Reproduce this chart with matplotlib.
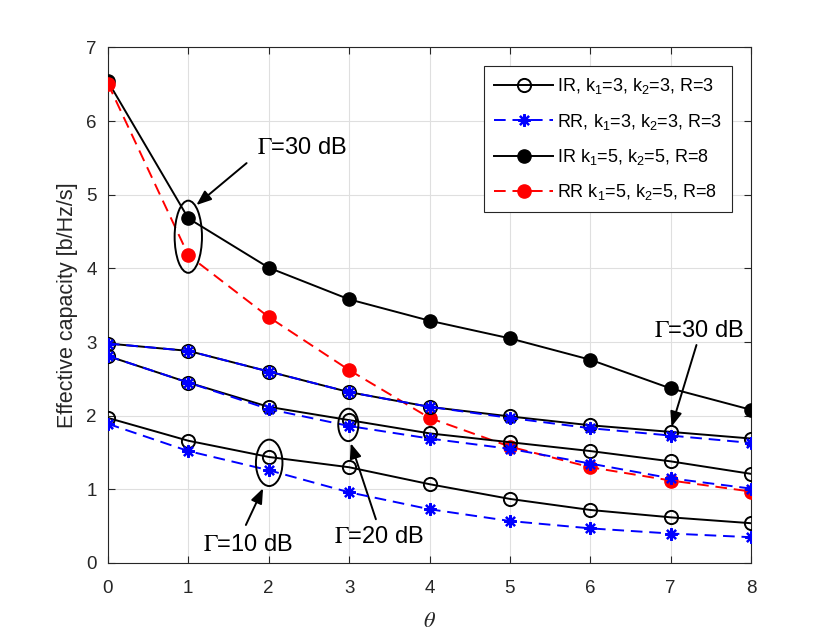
import matplotlib
matplotlib.use("Agg")
import matplotlib.pyplot as plt
from matplotlib.patches import Ellipse

plt.rcParams['font.family'] = ['Liberation Sans', 'DejaVu Sans']
plt.rcParams['mathtext.fontset'] = 'custom'
plt.rcParams['mathtext.rm'] = 'Liberation Sans'
plt.rcParams['mathtext.it'] = 'Liberation Sans:italic'

theta = [0, 1, 2, 3, 4, 5, 6, 7, 8]

# k1=3, k2=3, R=3
ir3_10 = [1.97, 1.66, 1.44, 1.30, 1.07, 0.87, 0.72, 0.62, 0.54]
rr3_10 = [1.89, 1.52, 1.26, 0.96, 0.73, 0.57, 0.47, 0.40, 0.35]
ir3_20 = [2.81, 2.45, 2.12, 1.94, 1.76, 1.64, 1.52, 1.38, 1.21]
rr3_20 = [2.81, 2.45, 2.09, 1.86, 1.69, 1.55, 1.35, 1.15, 1.01]
ir3_30 = [2.98, 2.88, 2.60, 2.32, 2.12, 1.99, 1.87, 1.78, 1.69]
rr3_30 = [2.98, 2.88, 2.60, 2.32, 2.12, 1.97, 1.83, 1.73, 1.63]
# k1=5, k2=5, R=8 (Gamma = 30 dB)
ir8_30 = [6.54, 4.68, 4.01, 3.58, 3.29, 3.05, 2.76, 2.37, 2.08]
rr8_30 = [6.51, 4.18, 3.34, 2.62, 1.97, 1.58, 1.30, 1.12, 0.97]

labels = ['IR, k$_1$=3, k$_2$=3, R=3', 'RR, k$_1$=3, k$_2$=3, R=3',
          'IR k$_1$=5, k$_2$=5, R=8', 'RR k$_1$=5, k$_2$=5, R=8']

fig = plt.figure(figsize=(8.3, 6.33), dpi=100)
ax = fig.add_axes([0.130, 0.1106, 0.775, 0.8144])

lw = 1.4
blue = '#0000ff'
red = '#ff0000'
dash = (6, 3.5)
star = (8, 2, 0)

ax.plot(theta, ir8_30, '-', color='k', lw=lw, marker='o', ms=9.5, mfc='k', mec='k', zorder=3)
ax.plot(theta, rr8_30, '--', color=red, lw=lw, marker='o', ms=9.5, mfc=red, mec=red, dashes=dash, zorder=3)

for ir in (ir3_10, ir3_20, ir3_30):
    ax.plot(theta, ir, '-', color='k', lw=lw, marker='o', ms=9.5, mfc='none', mec='k', mew=1.4, zorder=4)
for rr in (rr3_10, rr3_20, rr3_30):
    ax.plot(theta, rr, '--', color=blue, lw=lw, marker=star, ms=9, mfc=blue, mec=blue, mew=1.6, dashes=dash, zorder=5)

# legend proxies
h1, = ax.plot([], [], '-', color='k', lw=lw, marker='o', ms=9.5, mfc='none', mec='k', mew=1.4)
h2, = ax.plot([], [], '--', color=blue, lw=lw, marker=star, ms=9, mfc=blue, mec=blue, mew=1.6, dashes=dash)
h3, = ax.plot([], [], '-', color='k', lw=lw, marker='o', ms=9.5, mfc='k', mec='k')
h4, = ax.plot([], [], '--', color=red, lw=lw, marker='o', ms=9.5, mfc=red, mec=red, dashes=dash)
leg = ax.legend([h1, h2, h3, h4], labels, loc='upper right', fontsize=13,
                handlelength=3.3, handletextpad=0.2, labelspacing=0.85,
                borderpad=0.55, borderaxespad=1.05, fancybox=False, framealpha=1,
                edgecolor='#262626')
leg.get_frame().set_linewidth(0.8)

ax.set_xlim(0, 8)
ax.set_ylim(0, 7)
ax.set_xticks(range(0, 9))
ax.set_yticks(range(0, 8))
ax.grid(True, color='#dfdfdf', lw=0.8)
ax.set_axisbelow(True)
ax.tick_params(direction='in', top=True, right=True, labelsize=13.5, length=5,
               color='#262626', labelcolor='#262626')
ax.tick_params(axis='x', pad=12)
ax.tick_params(axis='y', pad=8)
for s in ax.spines.values():
    s.set_color('#262626')
    s.set_linewidth(0.8)

ax.set_xlabel(r'$\theta$', fontsize=16, math_fontfamily='stix', labelpad=10, color='#262626')
ax.set_ylabel('Effective capacity [b/Hz/s]', fontsize=15.5, labelpad=6, color='#262626')

# annotations
tk = dict(fontsize=17, math_fontfamily='stix', ha='center', va='center')
ap = dict(arrowstyle='-|>,head_length=0.9,head_width=0.35', color='k', lw=1.4, shrinkA=0, shrinkB=0)

ax.add_patch(Ellipse((1.0, 4.43), 0.34, 0.98, fill=False, ec='k', lw=1.4, zorder=6))
ax.annotate('', xy=(1.10, 4.86), xytext=(1.725, 5.43), arrowprops=ap)
ax.text(2.41, 5.64, r'$\Gamma$=30 dB', **tk)

ax.add_patch(Ellipse((2.006, 1.36), 0.33, 0.63, fill=False, ec='k', lw=1.4, zorder=6))
ax.annotate('', xy=(1.93, 1.015), xytext=(1.716, 0.516), arrowprops=ap)
ax.text(1.745, 0.245, r'$\Gamma$=10 dB', **tk)

ax.add_patch(Ellipse((2.99, 1.875), 0.25, 0.44, fill=False, ec='k', lw=1.4, zorder=6))
ax.annotate('', xy=(3.02, 1.626), xytext=(3.333, 0.594), arrowprops=ap)
ax.text(3.37, 0.35, r'$\Gamma$=20 dB', **tk)

ax.annotate('', xy=(7.01, 1.85), xytext=(7.32, 2.96), arrowprops=ap)
ax.text(7.35, 3.15, r'$\Gamma$=30 dB', **tk)

fig.savefig('out.png', dpi=100)
